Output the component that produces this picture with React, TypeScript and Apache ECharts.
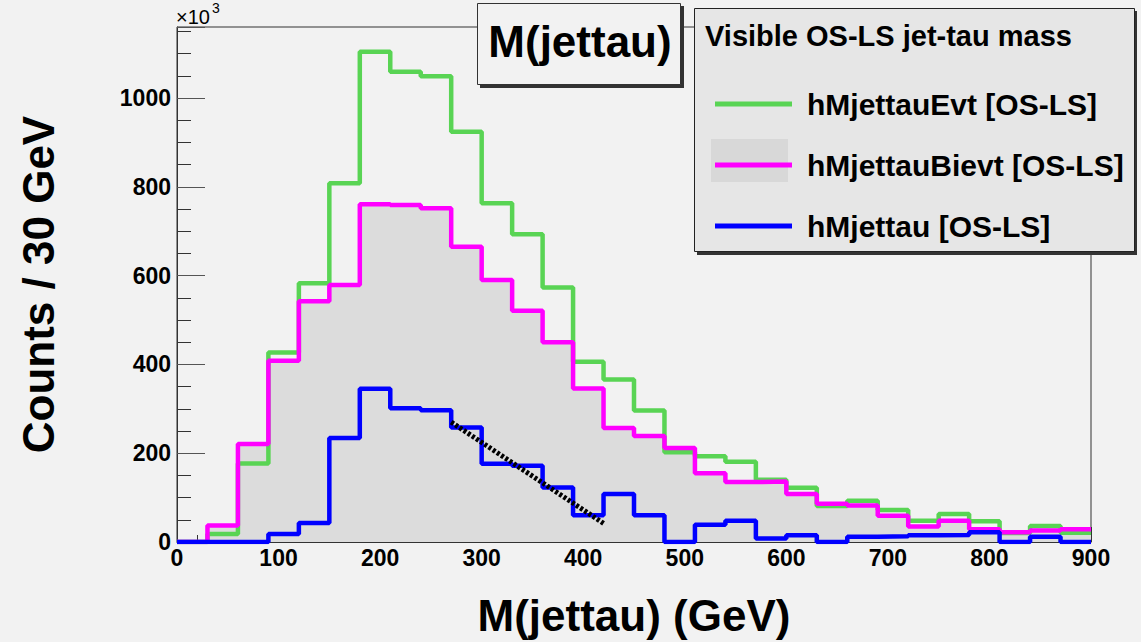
import React, { useEffect, useRef } from "react";
import * as echarts from "echarts";

// ---- data ----
const binLowEdges = [
  0, 30, 60, 90, 120, 150, 180, 210, 240, 270, 300, 330, 360, 390, 420,
  450, 480, 510, 540, 570, 600, 630, 660, 690, 720, 750, 780, 810, 840, 870,
];
const xMax = 900;
const yMax = 1160;

const evtValues = [
  0, 18, 177, 427, 583, 808, 1104, 1059, 1049, 924, 763, 693, 573, 406, 366,
  296, 202, 193, 181, 140, 122, 81, 93, 72, 48, 63, 47, 20, 36, 21,
];
const bievtValues = [
  0, 37, 221, 408, 542, 579, 761, 759, 752, 665, 590, 521, 450, 346, 257,
  239, 212, 155, 135, 136, 108, 86, 82, 59, 35, 48, 29, 22, 26, 29,
];
const jettauValues = [
  0, 0, 0, 18, 43, 234, 345, 301, 297, 258, 176, 172, 123, 60, 108,
  60, 0, 39, 48, 8, 15, 0, 12, 13, 15, 16, 22, 0, 12, 0,
];
const fitX = [270, 420];
const fitY = [270, 42];

const seriesNames = [
  "hMjettauEvt [OS-LS]",
  "hMjettauBievt [OS-LS]",
  "hMjettau [OS-LS]",
];
const xTitle = "M(jettau) (GeV)";
const yTitle = "Counts / 30 GeV";
const plotTitle = "M(jettau)";
const legendHeader = "Visible OS-LS jet-tau mass";

const FONT = "'Liberation Sans', Arial, Helvetica, sans-serif";
const GREEN = "#59d454";
const MAGENTA = "#ff00ff";
const BLUE = "#0000ff";
const BG = "#f2f2f2";

function toSteps(values: number[]) {
  const pts = values.map((v, i) => [binLowEdges[i], v]);
  pts.push([xMax, values[values.length - 1]]);
  return pts;
}

export default function App() {
  const ref = useRef<HTMLDivElement>(null);

  useEffect(() => {
    document.body.style.margin = "0";
    if (!ref.current) return;
    const chart = echarts.init(ref.current, null, { renderer: "svg" });

    const stepLine = (name: string, values: number[], color: string, z: number) => ({
      name,
      type: "line",
      step: "end",
      data: toSteps(values),
      showSymbol: false,
      symbol: "none",
      color,
      itemStyle: { color },
      lineStyle: { color, width: 4.5 },
      z,
      silent: true,
    });

    chart.setOption({
      animation: false,
      backgroundColor: BG,
      grid: {
        left: 177,
        right: 50,
        top: 27,
        bottom: 100,
        show: true,
        borderColor: "#333",
        borderWidth: 1,
        backgroundColor: "transparent",
      },
      xAxis: {
        type: "value",
        min: 0,
        max: xMax,
        interval: 100,
        name: xTitle,
        nameLocation: "middle",
        nameGap: 73,
        nameTextStyle: {
          fontFamily: FONT,
          fontWeight: "bold",
          fontSize: 44,
          color: "#000",
          verticalAlign: "middle",
        },
        axisLine: { lineStyle: { color: "#333", width: 1 } },
        axisTick: { inside: true, length: 15, lineStyle: { color: "#333" } },
        minorTick: { show: true, splitNumber: 5, length: 7, lineStyle: { color: "#333" } },
        axisLabel: {
          fontFamily: FONT,
          fontWeight: "bold",
          fontSize: 23,
          color: "#000",
          margin: 4,
        },
        splitLine: { show: false },
        minorSplitLine: { show: false },
      },
      yAxis: [
        {
          type: "value",
          min: 0,
          max: yMax,
          interval: 50,
          name: yTitle,
          nameLocation: "middle",
          nameRotate: 90,
          nameGap: 139,
          nameTextStyle: {
            fontFamily: FONT,
            fontWeight: "bold",
            fontSize: 44,
            color: "#000",
            verticalAlign: "middle",
          },
          axisLine: { show: true, lineStyle: { color: "#333", width: 1 } },
          axisTick: { show: true, inside: true, length: 14, lineStyle: { color: "#333" } },
          axisLabel: {
            fontFamily: FONT,
            fontWeight: "bold",
            fontSize: 23,
            color: "#000",
            margin: 6,
            showMaxLabel: false,
            formatter: (v: number) => (v % 200 === 0 ? String(v) : ""),
          },
          splitLine: { show: false },
        },
        {
          type: "value",
          min: 0,
          max: yMax,
          interval: 200,
          position: "left",
          axisLine: { show: false },
          axisTick: { show: true, inside: true, length: 28, lineStyle: { color: "#555" } },
          axisLabel: { show: false },
          splitLine: { show: false },
        },
      ],
      legend: {
        data: seriesNames,
        orient: "vertical",
        left: 710,
        top: 84,
        itemWidth: 77,
        itemHeight: 5,
        itemGap: 31,
        icon: "rect",
        selectedMode: false,
        z: 120,
        textStyle: {
          fontFamily: FONT,
          fontWeight: "bold",
          fontSize: 30,
          color: "#000",
          lineHeight: 30,
          padding: [0, 0, 0, 10],
        },
      },
      graphic: [
        // title box
        { type: "rect", z: 100, shape: { x: 480, y: 6, width: 204, height: 82 }, style: { fill: "#333" } },
        {
          type: "rect",
          z: 101,
          shape: { x: 477.5, y: 3.5, width: 203, height: 81 },
          style: { fill: BG, stroke: "#333", lineWidth: 1 },
        },
        {
          type: "text",
          z: 102,
          style: {
            text: plotTitle,
            x: 580,
            y: 41,
            align: "center",
            verticalAlign: "middle",
            fontFamily: FONT,
            fontWeight: "bold",
            fontSize: 44,
            fill: "#000",
          },
        },
        // legend box
        { type: "rect", z: 100, shape: { x: 697, y: 11, width: 440, height: 244 }, style: { fill: "#333" } },
        {
          type: "rect",
          z: 101,
          shape: { x: 694.5, y: 8.5, width: 440, height: 243 },
          style: { fill: "#e6e6e6", stroke: "#222", lineWidth: 1 },
        },
        {
          type: "rect",
          z: 102,
          shape: { x: 711, y: 139, width: 77, height: 43 },
          style: { fill: "#d8d8d8" },
        },
        {
          type: "text",
          z: 102,
          style: {
            text: legendHeader,
            x: 705,
            y: 36,
            align: "left",
            verticalAlign: "middle",
            fontFamily: FONT,
            fontWeight: "bold",
            fontSize: 29,
            fill: "#000",
          },
        },
        // axis exponent
        {
          type: "text",
          z: 102,
          style: {
            text: "×10",
            x: 176,
            y: 17,
            align: "left",
            verticalAlign: "middle",
            fontFamily: FONT,
            fontSize: 20,
            fill: "#000",
          },
        },
        {
          type: "text",
          z: 102,
          style: {
            text: "3",
            x: 212,
            y: 8,
            align: "left",
            verticalAlign: "middle",
            fontFamily: FONT,
            fontSize: 14,
            fill: "#000",
          },
        },
      ],
      series: [
        {
          type: "line",
          step: "end",
          data: toSteps(bievtValues),
          showSymbol: false,
          symbol: "none",
          lineStyle: { width: 0, opacity: 0 },
          areaStyle: { color: "#dcdcdc", opacity: 1 },
          z: 1,
          silent: true,
        },
        stepLine(seriesNames[0], evtValues, GREEN, 2),
        stepLine(seriesNames[1], bievtValues, MAGENTA, 3),
        stepLine(seriesNames[2], jettauValues, BLUE, 4),
        {
          type: "line",
          data: fitX.map((x, i) => [x, fitY[i]]),
          showSymbol: false,
          symbol: "none",
          lineStyle: { color: "#000", width: 5, type: [3, 2] },
          z: 5,
          silent: true,
        },
      ],
    });

    return () => chart.dispose();
  }, []);

  return (
    <div
      ref={ref}
      style={{ position: "absolute", left: 0, top: 0, width: 1141, height: 642 }}
    />
  );
}
